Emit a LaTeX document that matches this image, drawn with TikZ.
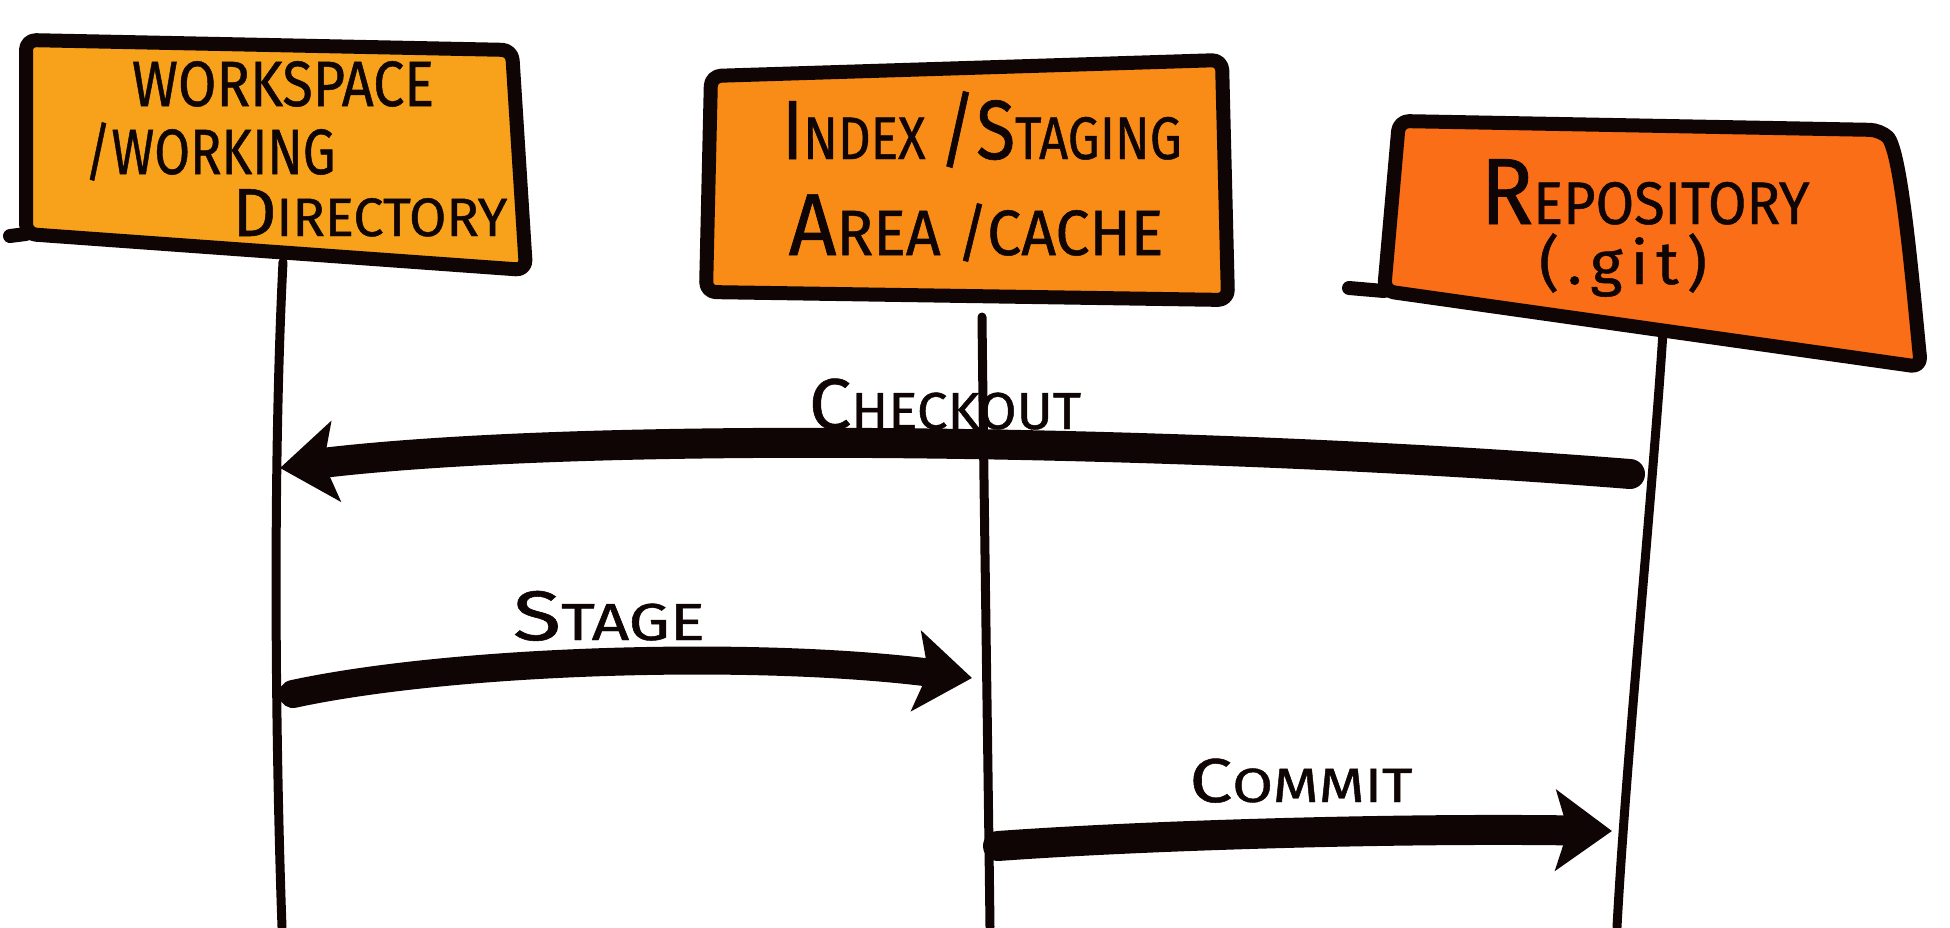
\documentclass[tikz,border=0pt]{standalone}
\usepackage{fontspec}
\usepackage{graphicx}
\setmainfont{Fira Sans}[FakeBold=0.8]
\usetikzlibrary{arrows.meta}
\definecolor{ink}{HTML}{0E0504}
\definecolor{wsfill}{HTML}{F8A21C}
\definecolor{ixfill}{HTML}{F98B17}
\definecolor{rpfill}{HTML}{F96E16}
\newcommand{\hwt}[5]{\scalebox{#5}[1]{{\fontsize{#1}{#1}\selectfont #2}{\fontsize{#3}{#3}\selectfont #4}}}
\tikzset{
  boxline/.style={draw=ink, line width=7pt, line join=round, rounded corners=5pt},
  edgeline/.style={draw=ink, line width=7pt, line cap=round},
  life/.style={draw=ink, line width=4.5pt, line cap=round},
  msg/.style={draw=ink, line width=#1, line cap=round, -{Stealth[length=28pt,width=40pt,inset=6pt]}},
  lbl/.style={anchor=base, inner sep=0pt, text=ink},
}
\begin{document}
\begin{tikzpicture}[x=0.5pt,y=-0.5pt]
\useasboundingbox (0,0) rectangle (1950,927);
% lifeline coordinates
\coordinate (wsTop) at (283,262);
\coordinate (wsBot) at (282,927);
\coordinate (ixTop) at (982,317);
\coordinate (ixBot) at (990,927);
\coordinate (rpTop) at (1663,332);
\coordinate (rpBot) at (1617,927);
% lifelines
\draw[life] (wsTop) .. controls (272,480) and (276,760) .. (wsBot);
\draw[life] (ixTop) .. controls (984,500) and (988,760) .. (ixBot);
\draw[life] (rpTop) .. controls (1652,500) and (1626,760) .. (rpBot);
% boxes
\path[boxline, fill=wsfill] (26,40) -- (512,50) -- (526,270) -- (26,234) -- cycle;
\draw[edgeline] (26,234) -- (10,236);
\path[boxline, fill=ixfill] (711,76) -- (1222,60) -- (1228,300) -- (706,292) -- cycle;
\path[boxline, fill=rpfill] (1399,121) -- (1880,130) .. controls (1902,150) and (1914,300) .. (1921,367) -- (1384,291) -- cycle;
\draw[edgeline] (1384,291) -- (1349,288);
% box texts
\node[lbl] (ws1) at (283,106) {\hwt{32pt}{WORKSPACE}{32pt}{}{0.87}};
\node[lbl] (ws2) at (210,174) {\hwt{32pt}{/WORKING}{32pt}{}{0.81}};
\node[lbl] (ws3) at (370,236) {\hwt{34pt}{D}{27pt}{IRECTORY}{1.0}};
\node[lbl] (ix1) at (982,159) {\hwt{42pt}{I}{30pt}{NDEX {\fontsize{42pt}{42pt}\selectfont/S}TAGING}{0.85}};
\node[lbl] (ix2) at (976,255) {\hwt{44pt}{A}{32pt}{REA /CACHE}{0.95}};
\node[lbl] (rp1) at (1645,224) {\hwt{47pt}{R}{30pt}{EPOSITORY}{0.93}};
\node[lbl] (rp2) at (1623,284) {\hwt{30pt}{}{30pt}{(\kern4pt.\kern4pt g\kern4pt i\kern4pt t\kern4pt)}{1.03}};
% message coordinates
\coordinate (coStart) at (1630,474);
\coordinate (coEnd) at (280,468);
\coordinate (stStart) at (293,694);
\coordinate (stEnd) at (972,678);
\coordinate (cmStart) at (998,846);
\coordinate (cmEnd) at (1612,831);
% messages
\draw[msg=15pt] (coStart) .. controls (1200,440) and (600,430) .. (coEnd);
\draw[msg=14pt] (stStart) .. controls (450,660) and (750,650) .. (stEnd);
\draw[msg=15pt] (cmStart) .. controls (1150,835) and (1400,828) .. (cmEnd);
% message labels
\node[lbl] (coLbl) at (945,429) {\hwt{36pt}{C}{26pt}{HECKOUT}{1.05}};
\node[lbl] (stLbl) at (609,640) {\hwt{35pt}{S}{26pt}{TAGE}{1.26}};
\node[lbl] (cmLbl) at (1301,802) {\hwt{31pt}{C}{24pt}{OMMIT}{1.23}};
\end{tikzpicture}
\end{document}
